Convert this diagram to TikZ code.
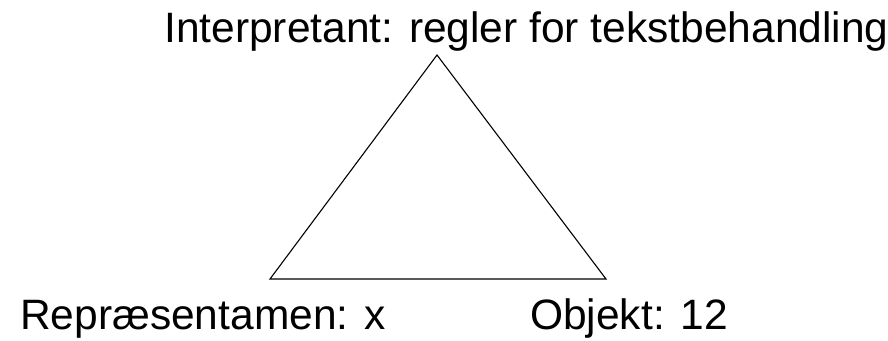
\documentclass[tikz,border=0pt]{standalone}
\usepackage{fontspec}
\setmainfont{Liberation Sans}
\usepackage{tikz}
\usetikzlibrary{positioning}

\begin{document}
\begin{tikzpicture}[
    x=1pt, y=1pt,
    sign/.style={inner sep=0pt, anchor=base west,
        font=\fontsize{42.5}{50}\selectfont},
    edge/.style={draw, line width=1.1pt, line join=miter}
]
\useasboundingbox (0,0) rectangle (888,340);
% corners of the triangle
\coordinate (Int) at (437,285);
\coordinate (Rep) at (270,61);
\coordinate (Obj) at (606,61);
% labels
\node[sign] (IntL) at (164,297) {Interpretant: regler for tekstbehandling};
\node[sign] (RepL) at (20,11) {Repræsentamen: x};
\node[sign] (ObjL) at (530,11) {Objekt: 12};
\draw[edge] (Rep) -- (Int) -- (Obj) -- cycle;
\end{tikzpicture}
\end{document}
